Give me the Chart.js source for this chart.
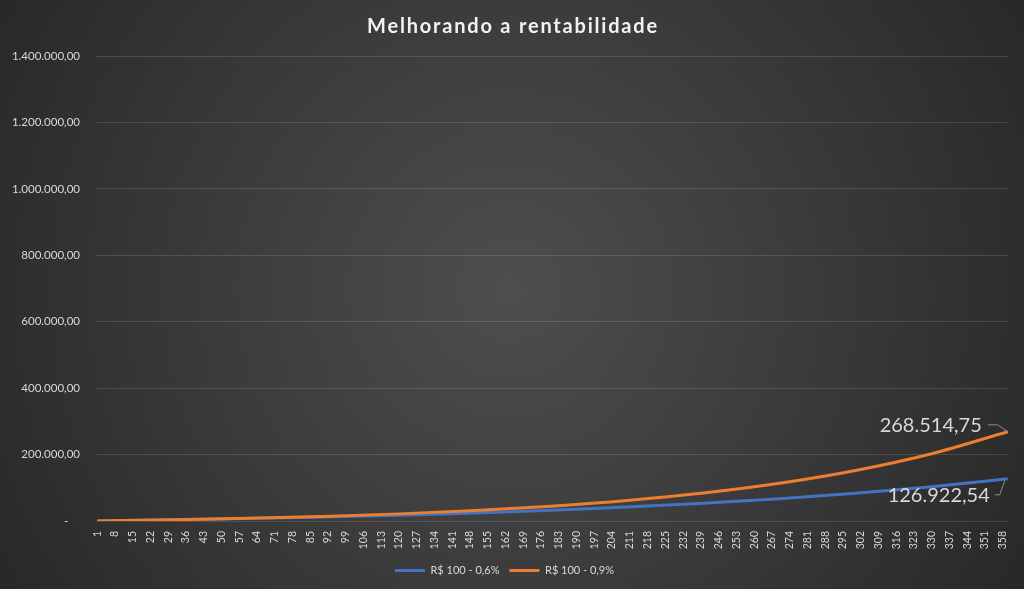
<!DOCTYPE html>
<html>
<head>
<meta charset="utf-8">
<script src="https://cdn.jsdelivr.net/npm/chart.js@4/dist/chart.umd.min.js"></script>
<style>
  html, body { margin: 0; padding: 0; background: #2a2a2a; }
  #wrap { width: 1024px; height: 589px; }
</style>
</head>
<body>
<div id="wrap"><canvas id="grafico" width="1024" height="589"></canvas></div>
<script>
const meses = [1, 30, 60, 90, 120, 150, 180, 210, 240, 270, 300, 330, 360];
// saldo acumulado - R$ 100 por mês a 0,6%
const serie06 = [100, 3276.23, 7196.47, 11887.33, 17500.29, 24216.69, 32253.17, 41869.52, 53376.18, 67144.76, 83619.85, 103333.5, 126922.54];
// saldo acumulado - R$ 100 por mês a 0,9%
const serie09 = [100, 3426.48, 7909.63, 13775.31, 21449.86, 31491.12, 44628.93, 61818.23, 84308.42, 113734.18, 152234.40, 202607.42, 268514.75];
// rótulos do eixo X (a cada 7 meses)
const rotulosX = [1, 8, 15, 22, 29, 36, 43, 50, 57, 64, 71, 78, 85, 92, 99, 106, 113, 120, 127, 134, 141, 148, 155, 162, 169, 176, 183, 190, 197, 204, 211, 218, 225, 232, 239, 246, 253, 260, 267, 274, 281, 288, 295, 302, 309, 316, 323, 330, 337, 344, 351, 358];
// rótulos do eixo Y
const rotulosY = [0, 200000, 400000, 600000, 800000, 1000000, 1200000, 1400000];

const titulo = 'Melhorando a rentabilidade';
const nomes = ['R$ 100 - 0,6%', 'R$ 100 - 0,9%'];
const cores = ['#4472c4', '#ed7d31'];
const fonte = 'Lato, "Open Sans", sans-serif';
const corTexto = '#d9d9d9';

const fmt = new Intl.NumberFormat('pt-BR', { minimumFractionDigits: 2, maximumFractionDigits: 2 });

// fundo com gradiente radial + título com espaçamento entre letras
const fundo = {
    id: 'fundo',
    beforeDraw(chart) {
        const { ctx, width, height } = chart;
        const g = ctx.createRadialGradient(510, 290, 0, 510, 290, 640);
        g.addColorStop(0, '#4e4e4e');
        g.addColorStop(1, '#252525');
        ctx.save();
        ctx.fillStyle = g;
        ctx.fillRect(0, 0, width, height);
        ctx.font = 'bold 20px ' + fonte;
        ctx.letterSpacing = '1.8px';
        ctx.fillStyle = '#f2f2f2';
        ctx.textAlign = 'center';
        ctx.textBaseline = 'middle';
        ctx.fillText(titulo, 513, 27);
        ctx.restore();
    }
};

// rótulos de dados no último ponto, com linha guia
const rotulosDados = {
    id: 'rotulosDados',
    afterDatasetsDraw(chart) {
        const ctx = chart.ctx;
        const conf = [
            { ds: 1, dx: -26, dy: -6, guia: [[-20, -7], [-10, -7], [0, 0]] },
            { ds: 0, dx: -18, dy: 17, guia: [[-13, 16], [-8, 16], [-3, 2]] }
        ];
        ctx.save();
        ctx.font = '20px ' + fonte;
        ctx.fillStyle = corTexto;
        ctx.textAlign = 'right';
        ctx.textBaseline = 'middle';
        conf.forEach(c => {
            const meta = chart.getDatasetMeta(c.ds);
            const p = meta.data[meta.data.length - 1];
            const valores = chart.data.datasets[c.ds].data;
            const v = valores[valores.length - 1].y;
            ctx.fillText(fmt.format(v), p.x + c.dx, p.y + c.dy);
            ctx.strokeStyle = '#8c8c8c';
            ctx.lineWidth = 1;
            ctx.beginPath();
            c.guia.forEach((g, i) => {
                if (i === 0) ctx.moveTo(p.x + g[0], p.y + g[1]);
                else ctx.lineTo(p.x + g[0], p.y + g[1]);
            });
            ctx.stroke();
        });
        ctx.restore();
    }
};

new Chart(document.getElementById('grafico'), {
    type: 'line',
    data: {
        datasets: [
            {
                label: nomes[0],
                data: meses.map((m, i) => ({ x: m, y: serie06[i] })),
                borderColor: cores[0],
                backgroundColor: cores[0],
                borderWidth: 3,
                pointRadius: 0,
                pointStyle: 'line',
                cubicInterpolationMode: 'monotone',
                order: 1
            },
            {
                label: nomes[1],
                data: meses.map((m, i) => ({ x: m, y: serie09[i] })),
                borderColor: cores[1],
                backgroundColor: cores[1],
                borderWidth: 3,
                pointRadius: 0,
                pointStyle: 'line',
                cubicInterpolationMode: 'monotone',
                order: 0
            }
        ]
    },
    options: {
        responsive: false,
        animation: false,
        layout: { padding: { top: 56, right: 15, bottom: 3, left: 0 } },
        scales: {
            x: {
                type: 'linear',
                min: 0.5,
                max: 360.5,
                grid: { display: false },
                border: { display: false },
                afterBuildTicks: s => { s.ticks = rotulosX.map(v => ({ value: v })); },
                afterFit: s => { s.height = 34; },
                ticks: {
                    autoSkip: false,
                    minRotation: 90,
                    maxRotation: 90,
                    padding: 2,
                    color: corTexto,
                    font: { family: fonte, size: 10.5 },
                    callback: v => String(v)
                }
            },
            y: {
                min: 0,
                max: 1400000,
                grid: { color: 'rgba(255,255,255,0.13)', drawTicks: false },
                border: { display: false },
                afterBuildTicks: s => { s.ticks = rotulosY.map(v => ({ value: v })); },
                afterFit: s => { s.width = 96; },
                ticks: {
                    padding: 16,
                    color: corTexto,
                    font: { family: fonte, size: 11.5 },
                    callback: v => v === 0 ? '-    ' : fmt.format(v)
                }
            }
        },
        plugins: {
            title: { display: false },
            legend: {
                position: 'bottom',
                labels: {
                    usePointStyle: true,
                    pointStyleWidth: 30,
                    boxHeight: 3,
                    padding: 10,
                    color: corTexto,
                    font: { family: fonte, size: 11 },
                    sort: (a, b) => a.datasetIndex - b.datasetIndex
                }
            },
            tooltip: { enabled: false }
        }
    },
    plugins: [fundo, rotulosDados]
});
</script>
</body>
</html>
